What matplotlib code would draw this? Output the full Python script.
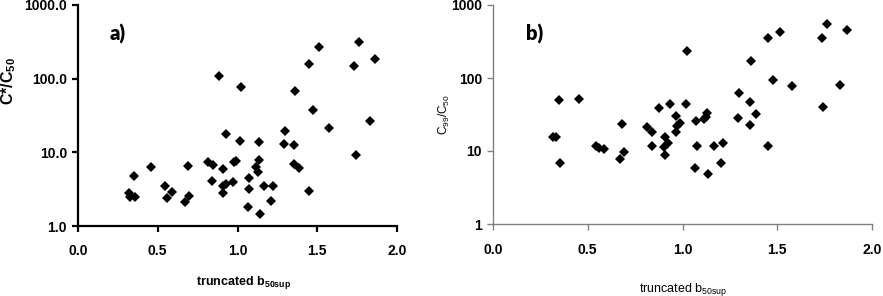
import matplotlib
matplotlib.use("Agg")
import matplotlib.pyplot as plt
from matplotlib.ticker import FixedLocator, FixedFormatter

# Panel a data: truncated b50sup vs C*/C50
a_x = [0.354, 0.321, 0.327, 0.358, 0.455, 0.547, 0.589, 0.558, 0.673, 0.694,
       0.688, 0.813, 0.845, 0.839, 0.884, 0.931, 1.017, 1.136, 1.300, 1.290,
       1.355, 1.355, 1.386, 0.910, 0.975, 0.992, 0.906, 0.929, 0.912, 0.970,
       1.073, 1.113, 1.126, 1.134, 1.075, 1.168, 1.220, 1.208, 1.067, 1.138,
       1.023, 1.451, 1.358, 1.476, 1.574, 1.447, 1.514, 1.759, 1.731, 1.862,
       1.828, 1.740]
a_y = [4.77, 2.78, 2.45, 2.45, 6.38, 3.49, 2.92, 2.38, 2.12, 2.58,
       6.58, 7.45, 6.73, 4.08, 108, 17.7, 14.2, 13.7, 19.5, 13.0,
       12.4, 6.94, 6.18, 6.0, 7.32, 7.55, 3.49, 3.68, 2.80, 3.92,
       4.44, 6.25, 5.45, 7.87, 3.15, 3.46, 3.49, 2.18, 1.81, 1.44,
       76.9, 3.01, 68.5, 37.5, 21.6, 156, 268, 314, 150, 183,
       26.6, 9.19]

# Panel b data: truncated b50sup vs C99/C50
b_x = [0.319, 0.332, 0.349, 0.351, 0.453, 0.543, 0.559, 0.584, 0.681, 0.670,
       0.689, 0.811, 0.838, 0.841, 0.878, 0.933, 0.968, 0.906, 0.905, 0.924,
       0.910, 0.968, 0.972, 0.989, 1.016, 1.023, 1.071, 1.074, 1.065, 1.113,
       1.125, 1.131, 1.134, 1.166, 1.215, 1.205, 1.300, 1.291, 1.356, 1.356,
       1.386, 1.360, 1.453, 1.476, 1.450, 1.517, 1.578, 1.762, 1.734, 1.744,
       1.829, 1.866]
b_y = [15.5, 15.6, 49.5, 6.92, 52, 11.8, 11.1, 10.5, 23.2, 7.85,
       9.69, 21.5, 18.0, 11.7, 39.2, 43.6, 30.5, 15.7, 11.5, 13.0,
       8.9, 18.4, 22.0, 23.9, 43.6, 232, 25.8, 11.7, 5.79, 27.4,
       29.5, 32.8, 4.84, 11.8, 12.7, 6.92, 61.7, 28.0, 47.4, 22.9,
       32.1, 169, 11.7, 94, 357, 431, 78.5, 555, 357, 40.1,
       80.2, 455]

x_ticks = [0.0, 0.5, 1.0, 1.5, 2.0]
x_ticklabels = ["0.0", "0.5", "1.0", "1.5", "2.0"]
y_ticks = [1, 10, 100, 1000]
a_yticklabels = ["1.0", "10.0", "100.0", "1000.0"]
b_yticklabels = ["1", "10", "100", "1000"]

plt.rcParams['font.family'] = ['Liberation Sans', 'DejaVu Sans']

W, H = 883, 296
fig = plt.figure(figsize=(W / 100, H / 100), dpi=100)

def px_axes(l, t, r, b):
    return fig.add_axes([l / W, 1 - b / H, (r - l) / W, (b - t) / H])

axa = px_axes(78, 5, 397, 226)
axb = px_axes(493, 5, 872, 224)

for ax, xs, ys, ylabs, spc, lw in [
        (axa, a_x, a_y, a_yticklabels, 'black', 1.6),
        (axb, b_x, b_y, b_yticklabels, '#808080', 1.0)]:
    ax.plot(xs, ys, linestyle='none', marker='D', markersize=4.8,
            color='black', markeredgewidth=0)
    ax.set_yscale('log')
    ax.set_xlim(0, 2.0)
    ax.set_ylim(1, 1000)
    ax.xaxis.set_major_locator(FixedLocator(x_ticks))
    ax.xaxis.set_major_formatter(FixedFormatter(x_ticklabels))
    ax.yaxis.set_major_locator(FixedLocator(y_ticks))
    ax.yaxis.set_major_formatter(FixedFormatter(ylabs))
    ax.yaxis.set_minor_locator(FixedLocator([]))
    for s in ['top', 'right']:
        ax.spines[s].set_visible(False)
    for s in ['left', 'bottom']:
        ax.spines[s].set_color(spc)
        ax.spines[s].set_linewidth(lw)
    ax.tick_params(axis='both', which='major', direction='out', length=4,
                   width=lw, color=spc, labelsize=10, pad=4)
    for lab in ax.get_xticklabels() + ax.get_yticklabels():
        lab.set_fontweight('bold')
    ax.set_facecolor('none')

axa.tick_params(axis='x', pad=9)
axb.tick_params(axis='x', pad=10)

# axis labels
fig.text(244 / W, 1 - 282 / H, r"truncated b$_{\mathregular{50sup}}$",
         ha='center', va='center', fontsize=9, fontweight='bold')
fig.text(683 / W, 1 - 289 / H, r"truncated b$_{\mathregular{50sup}}$",
         ha='center', va='center', fontsize=9)
fig.text(9 / W, 1 - 81 / H, r"C*/C$_{\mathregular{50}}$", rotation=90,
         ha='center', va='center', fontsize=11.5, fontweight='bold')
fig.text(444 / W, 1 - 115 / H, r"C$_{\mathregular{99}}$/C$_{\mathregular{50}}$",
         rotation=90, ha='center', va='center', fontsize=8.5)

# panel letters
fig.text(118 / W, 1 - 34 / H, "a)", ha='center', va='center',
         fontsize=14.5, fontweight='heavy', family=['Lato', 'DejaVu Sans'])
fig.text(535 / W, 1 - 34 / H, "b)", ha='center', va='center',
         fontsize=14.5, fontweight='heavy', family=['Lato', 'DejaVu Sans'])

fig.savefig("out.png", dpi=100)
